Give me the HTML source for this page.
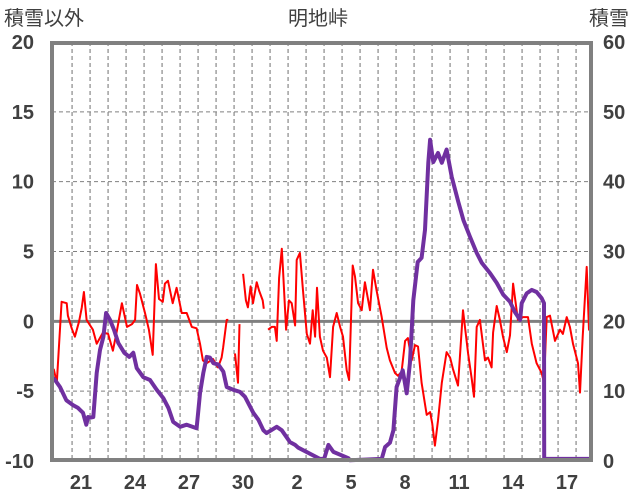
<!DOCTYPE html>
<html><head><meta charset="utf-8">
<style>
html,body{margin:0;padding:0;background:#fff;}
svg{display:block;font-family:"Liberation Sans","Noto Sans CJK JP",sans-serif;}
</style></head>
<body>
<svg id="chart" width="636" height="501" viewBox="0 0 636 501" xmlns="http://www.w3.org/2000/svg">
<text x="4" y="25" font-size="20" fill="#404040">積雪以外</text>
<text x="318" y="25" font-size="20" fill="#404040" text-anchor="middle">明地峠</text>
<text x="589" y="25" font-size="20" fill="#404040">積雪</text>
<g id="grid"></g><g id="series"></g><g id="axes"></g>
</svg>
<script>
const leftTicks=[-10,-5,0,5,10,15,20];
const rightTicks=[0,10,20,30,40,50,60];
const dateLabels=["21","24","27","30","2","5","8","11","14","17"];
const redT=[0.65,0.82,1.09,1.37,1.44,1.65,1.83,2.06,2.21,2.33,2.48,2.83,3.04,3.39,3.67,3.94,4.17,4.44,4.72,5.0,5.17,5.28,5.44,5.72,5.94,6.15,6.33,6.5,6.71,6.83,7.0,7.26,7.48,7.76,8.04,8.32,8.59,8.78,8.94,9.15,9.5,9.78,9.98,10.06,10.26,10.35,10.44,10.72,10.89,10.97,11.06,11.17,11.33,11.44,11.59,11.72,11.93,12.06,12.26,12.32,12.39,12.56,12.76,12.94,13.04,13.17,13.32,13.39,13.56,13.72,13.87,14.06,14.15,14.33,14.5,14.71,14.89,15.04,15.17,15.28,15.44,15.61,15.82,16.0,16.17,16.37,16.56,16.72,16.93,17.06,17.26,17.39,17.56,17.76,17.94,18.22,18.39,18.59,18.87,19.15,19.33,19.61,19.78,19.98,20.17,20.33,20.54,20.72,20.89,21.09,21.37,21.56,21.68,21.83,22.0,22.21,22.48,22.67,22.83,23.11,23.39,23.67,23.87,24.0,24.15,24.33,24.61,24.78,24.98,25.06,25.26,25.44,25.61,25.82,26.0,26.17,26.44,26.72,27.0,27.21,27.48,27.76,27.89,28.04,28.22,28.5,28.78,28.94,29.15,29.33,29.5,29.78,29.89,30.04,30.26,30.39,30.5];
const redV=[-3.4,-4.4,1.4,1.3,0.4,-0.5,-1.1,0,1,2.1,0.1,-0.6,-1.6,-0.8,-0.9,-2.1,-0.6,1.3,-0.4,-0.2,0.1,2.6,2,0.6,-0.6,-2.4,4.1,1.6,1.4,2.7,2.9,1.3,2.4,0.6,0.6,-0.4,-0.5,-1.6,-2.8,-3,-2.7,-3.3,-2.6,-1.9,0.1,0.1,null,-2.3,-4.4,-0.2,null,3.4,1.5,1,2.5,1.3,2.8,2.2,1.5,0.9,null,-0.6,-0.4,-0.4,-1.4,3.1,5.2,3.7,-0.6,1.5,1.3,-0.3,4.4,4.9,2.2,-0.9,-1.6,0.8,-1.1,2.4,-1.1,-2.1,-2.6,-4,-0.4,0.6,-0.4,-1.1,-3.5,-4.2,4,3.2,1.3,0.8,2.8,0.8,3.7,2.2,0.3,-1.9,-2.8,-3.7,-3.9,-3.6,-1.4,-1.2,-2.8,-1.7,-1.8,-4.4,-6.7,-6.5,-7.3,-8.9,-7.1,-4.4,-2.2,-2.6,-3.4,-4.6,0.8,-2.3,-4.1,-5.4,-0.4,0.1,-2.8,-2.6,-3.3,-0.8,1.1,0.1,-1.1,-2.2,-1,2.7,0.1,0.3,0.3,-1.6,-3,-3.7,-4.4,0.3,0.4,-1.4,-0.6,-0.9,0.3,-0.4,-1.6,-3,-5.1,-1.1,3.9,-0.6,-0.2,-1.7];
const snowT=[0.6,0.72,1.0,1.35,1.72,2.0,2.28,2.46,2.56,2.67,2.85,3.04,3.22,3.41,3.56,3.78,4.0,4.24,4.57,4.85,5.07,5.26,5.63,6.0,6.37,6.74,7.02,7.29,7.67,8.04,8.59,8.68,8.78,8.96,9.15,9.33,9.52,9.8,10.07,10.26,10.63,11.0,11.28,11.74,12.02,12.3,12.48,13.04,13.32,13.78,14.06,14.24,15.44,15.67,15.91,16.19,17.02,17.11,18.87,19.06,19.33,19.52,19.7,19.89,20.04,20.26,20.44,20.63,20.87,21.09,21.28,21.46,21.56,21.74,22.0,22.21,22.48,22.76,23.13,23.41,23.78,24.15,24.43,24.89,25.26,25.63,26.0,26.28,26.56,26.65,26.93,27.21,27.48,27.76,27.89,27.9,28.04,30.45];
const snowV=[11.9,11.6,10.6,8.7,8,7.6,6.9,5.2,6.3,6.2,6.3,12.6,15.9,17.8,21.2,20.2,18.8,16.9,15.5,14.9,15.5,13.3,12,11.6,10.2,9,7.6,5.6,4.9,5.2,4.7,7,9.7,12.6,14.9,14.8,14,13.8,12.8,10.6,10.2,9.9,9.2,6.9,5.9,4.4,4,4.9,4.4,2.7,2.3,1.9,0.3,0.3,2.3,1.3,0.4,0.1,0.3,2,2.6,4.4,10.6,11.9,13,9.7,14,23,28.5,29.1,33.1,42.7,46,42.8,44.1,42.7,44.6,40.7,37.1,34.5,32.1,29.8,28.4,26.9,25.5,23.8,22.8,21.3,20.2,22.6,24,24.5,24.2,23.3,22.6,0.4,0.3,0.3];

const TX0=42,DAYPX=18;
const FX0=52,FX1=591,Y0=42,Y1=461;
const xS=t=>TX0+t*DAYPX;
const yL=v=>Y1-(v+10)/30*(Y1-Y0);
const yR=v=>Y1-v/60*(Y1-Y0);
const NS="http://www.w3.org/2000/svg";
function mk(tag,attrs,parent){const e=document.createElementNS(NS,tag);for(const k in attrs)e.setAttribute(k,attrs[k]);parent.appendChild(e);return e;}
const grid=document.getElementById('grid'),series=document.getElementById('series'),axes=document.getElementById('axes');
for(let k=0;k<29;k++){
  const x=xS(1.67+k);
  if(x>=FX1-2)continue;
  const l=mk('line',{x1:x,x2:x,y1:Y0,y2:Y1,stroke:'#707070','stroke-width':1,'stroke-dasharray':'4,3'},grid);
  
  
}
leftTicks.forEach(v=>{
  const y=yL(v);
  if(v>-10&&v<20){
    const l=mk('line',{x1:FX0,x2:FX1,y1:y,y2:y,stroke:'#808080','stroke-width':v===0?3:1,'stroke-dasharray':v===0?'none':'4,3'},grid);
    
    
  }
  const t=mk('text',{x:34,y:y+7,'font-size':20,'font-weight':'bold',fill:'#404040','text-anchor':'end'},axes);
  t.textContent=String(v);
  
  
});
rightTicks.forEach(v=>{
  const t=mk('text',{x:603,y:yR(v)+7,'font-size':20,'font-weight':'bold',fill:'#404040'},axes);
  t.textContent=String(v);
  
  
});
dateLabels.forEach((d,i)=>{
  const t=mk('text',{x:xS(2.17+3*i),y:489,'font-size':20,'font-weight':'bold',fill:'#404040','text-anchor':'middle'},axes);
  t.textContent=d;
  
  
});
function pathFrom(T,V,ys){let d='',pen=false;for(let i=0;i<T.length;i++){if(V[i]===null){pen=false;continue;}d+=(pen?'L':'M')+xS(T[i]).toFixed(1)+','+ys(V[i]).toFixed(1);pen=true;}return d;}
const red=mk('path',{d:pathFrom(redT,redV,yL),fill:'none',stroke:'#ff0000','stroke-width':2,'stroke-linejoin':'round'},series);


const snow=mk('path',{d:pathFrom(snowT,snowV,yR),fill:'none',stroke:'#7030a0','stroke-width':4,'stroke-linejoin':'round'},series);


const frame=mk('rect',{x:FX0,y:Y0+1,width:FX1-FX0,height:Y1-Y0-2,fill:'none',stroke:'#808080','stroke-width':4},axes);


</script>
</body></html>
